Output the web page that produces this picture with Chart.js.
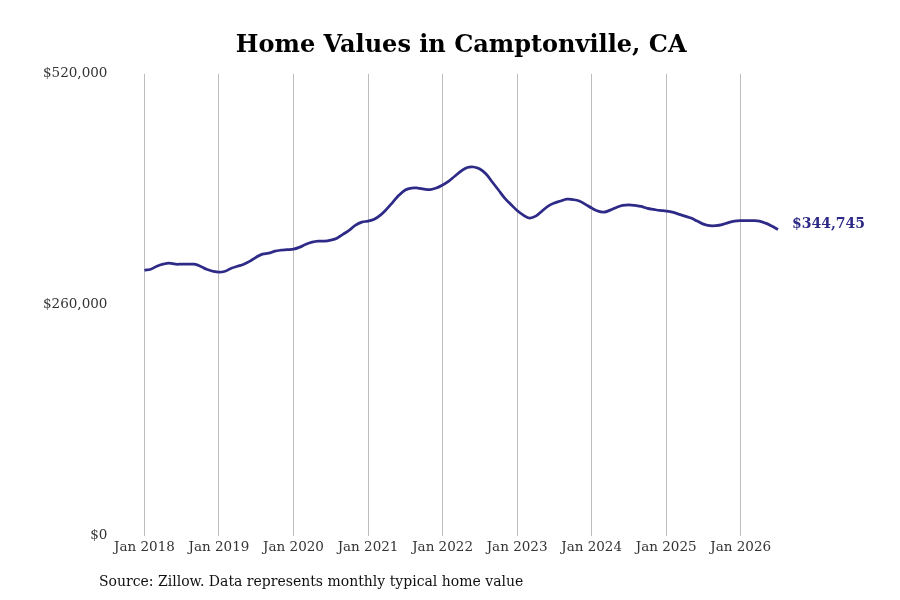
<!DOCTYPE html>
<html>
<head>
<meta charset="utf-8">
<script src="https://cdn.jsdelivr.net/npm/chart.js@4"></script>
<style>
  html, body { margin: 0; padding: 0; background: #fff; }
  #wrap { width: 900px; height: 600px; }
</style>
</head>
<body>
<div id="wrap"><canvas id="homeValues" width="900" height="600"></canvas></div>
<script>
var years = [2018, 2019, 2020, 2021, 2022, 2023, 2024, 2025, 2026];
var monthNames = ["Jan","Feb","Mar","Apr","May","Jun","Jul","Aug","Sep","Oct","Nov","Dec"];

// typical home value, one value per month, Jan 2018 .. Jul 2026
var values2018 = [298900, 300000, 303400, 305700, 306800, 305700, 305700, 305700, 305700, 303400, 300000, 297800];
var values2019 = [296700, 297800, 301200, 303400, 305700, 309100, 313600, 317000, 318100, 320400, 321500, 322000];
var values2020 = [322600, 324900, 328200, 330500, 331600, 331600, 332800, 335000, 339500, 344000, 349700, 353100];
var values2021 = [354200, 356400, 361000, 367700, 375600, 383500, 389200, 391400, 391400, 390300, 389700, 391400];
var values2022 = [394800, 399300, 405000, 410600, 414600, 415100, 412800, 407200, 398200, 389200, 380100, 373000];
var values2023 = [366200, 361000, 357600, 359800, 365500, 371100, 374500, 376800, 379000, 378400, 376800, 373000];
var values2024 = [368900, 365500, 364300, 366600, 369600, 371800, 372400, 371800, 370700, 368500, 367300, 366200];
var values2025 = [365500, 364300, 362100, 359800, 357600, 354200, 350800, 349100, 349100, 350200, 352500, 354200];
var values2026 = [354800, 354800, 354800, 354200, 351900, 348600, 344745];

var yTicks = [0, 260000, 520000];
var lineColor = "rgb(46, 42, 135)";

var values = [].concat(values2018, values2019, values2020, values2021, values2022,
                       values2023, values2024, values2025, values2026);
var labels = [];
years.forEach(function (y) {
  monthNames.forEach(function (m) { labels.push(m + " " + y); });
});
labels = labels.slice(0, values.length);

function money(v) {
  return "$" + v.toLocaleString("en-US");
}

// last value next to the end of the line, and the source note under the chart
var extras = {
  id: "extras",
  afterDatasetsDraw: function (chart) {
    var c = chart.ctx;
    var meta = chart.getDatasetMeta(0);
    var last = meta.data[meta.data.length - 1];
    c.save();
    c.font = "bold 14px 'DejaVu Serif'";
    c.fillStyle = lineColor;
    c.textBaseline = "middle";
    c.textAlign = "left";
    c.fillText(money(values[values.length - 1]), last.x + 14, last.y - 5);

    c.font = "14px 'DejaVu Serif'";
    c.fillStyle = "#111";
    c.fillText("Source: Zillow. Data represents monthly typical home value", 99, 582);
    c.restore();
  }
};

new Chart(document.getElementById("homeValues"), {
  type: "line",
  data: {
    labels: labels,
    datasets: [{
      data: values,
      borderColor: lineColor,
      borderWidth: 2.75,
      pointRadius: 0,
      tension: 0.4,
      fill: false
    }]
  },
  options: {
    responsive: false,
    animation: false,
    layout: { padding: { left: 14, right: 122, top: 23, bottom: 40 } },
    plugins: {
      legend: { display: false },
      tooltip: { enabled: false },
      title: {
        display: true,
        text: "Home Values in Camptonville, CA",
        fullSize: false,
        color: "#000",
        font: { family: "'DejaVu Serif'", size: 24, weight: "bold" },
        padding: { top: 8, bottom: 14 }
      }
    },
    scales: {
      x: {
        type: "category",
        offset: false,
        border: { display: false },
        grid: {
          drawTicks: false,
          color: function (ctx) {
            var l = labels[ctx.index] || "";
            return l.indexOf("Jan") === 0 ? "#bdbdbd" : "rgba(0,0,0,0)";
          }
        },
        ticks: {
          autoSkip: false,
          maxRotation: 0,
          padding: 4,
          color: "#333",
          font: { family: "'DejaVu Serif'", size: 13.5 },
          callback: function (v, i) {
            return labels[i].indexOf("Jan") === 0 ? labels[i] : "";
          }
        }
      },
      y: {
        min: 0,
        max: 520000,
        border: { display: false },
        grid: { display: false },
        afterBuildTicks: function (axis) {
          axis.ticks = yTicks.map(function (v) { return { value: v }; });
        },
        ticks: {
          padding: 29,
          color: "#333",
          font: { family: "'DejaVu Serif'", size: 13.5 },
          callback: function (v) { return money(v); }
        }
      }
    }
  },
  plugins: [extras]
});
</script>
</body>
</html>
